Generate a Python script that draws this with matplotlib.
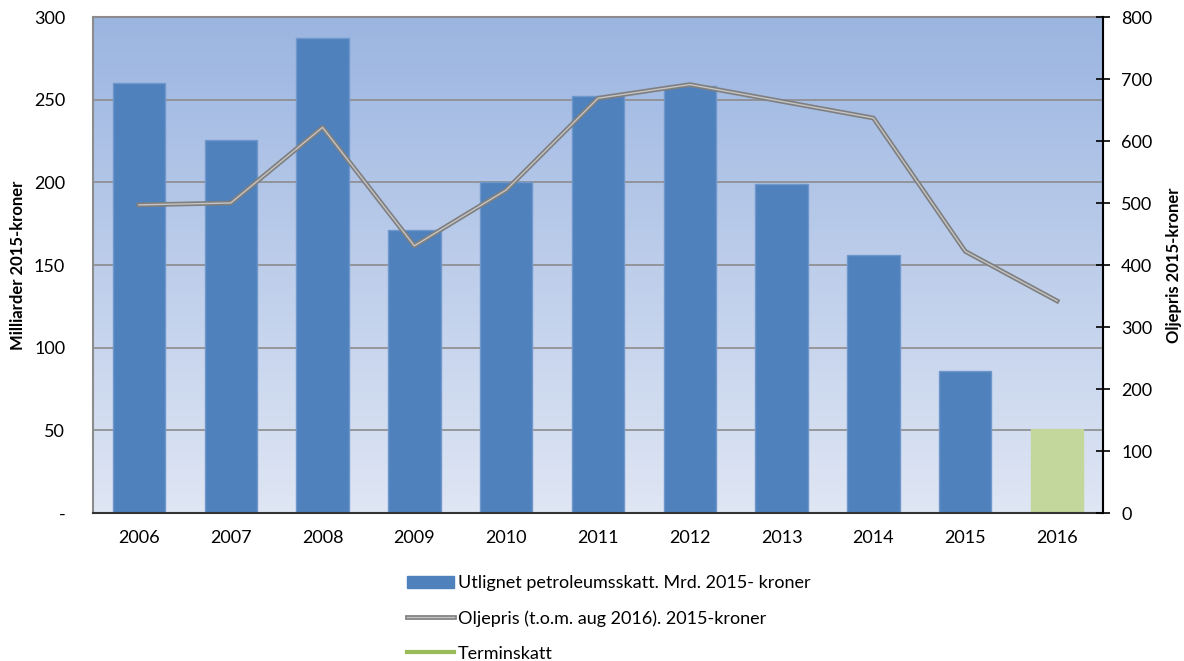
import numpy as np
import matplotlib.pyplot as plt
from matplotlib.lines import Line2D
from matplotlib.patches import Patch
import matplotlib.patheffects as pe

plt.rcParams['font.family'] = ['Lato', 'DejaVu Sans']

years = ['2006', '2007', '2008', '2009', '2010', '2011', '2012', '2013', '2014', '2015', '2016']
skatt = [260, 225.5, 287, 171, 200, 252.5, 258, 199, 156, 86, 0]
terminskatt = [0, 0, 0, 0, 0, 0, 0, 0, 0, 0, 51]
oljepris = [497, 500, 622, 431, 521, 669, 691, 664, 637, 422, 342]
left_ticks = [0, 50, 100, 150, 200, 250, 300]
left_labels = ['-', '50', '100', '150', '200', '250', '300']
right_ticks = [0, 100, 200, 300, 400, 500, 600, 700, 800]

fig = plt.figure(figsize=(11.84, 6.61), dpi=100)
ax = fig.add_axes([93/1184, 1-513/661, (1103-93)/1184, (513-17)/661])

# gradient background
grad = np.linspace(0, 1, 256).reshape(-1, 1)
top = np.array([0x9b, 0xb5, 0xe1]) / 255
bot = np.array([0xdf, 0xe6, 0xf4]) / 255
img = top[None, None, :] * (1 - grad[:, :, None]) + bot[None, None, :] * grad[:, :, None]
ax.imshow(img, extent=[0, 1, 0, 1], transform=ax.transAxes, aspect='auto', zorder=0)

x = np.arange(len(years))
ax.set_xlim(-0.5, len(years) - 0.5)
ax.set_ylim(0, 300)
for t in left_ticks[1:-1]:
    ax.axhline(t, color='#8c8c8c', lw=1.2, zorder=1)
ax.bar(x, skatt, width=0.57, color='#4f81bd', edgecolor='#6f97cc', lw=1, zorder=2)
ax.bar(x, terminskatt, width=0.57, color='#c3d69b', edgecolor='#c3d69b', lw=1, zorder=2)

ax.set_yticks(left_ticks)
ax.set_yticklabels(left_labels, fontsize=13)
ax.tick_params(axis='y', length=0, pad=20)
ax.set_xticks(x)
ax.set_xticklabels(years, fontsize=13)
ax.tick_params(axis='x', length=0, pad=12)
for s in ['left', 'top', 'right']:
    ax.spines[s].set_color('#8c8c8c')
    ax.spines[s].set_linewidth(1.5)
ax.spines['bottom'].set_color('#333333')
ax.spines['bottom'].set_linewidth(1.5)
ax.set_ylabel('Milliarder 2015-kroner', fontsize=12, fontweight='bold', labelpad=6)

ax2 = ax.twinx()
ax2.set_ylim(0, 800)
ax2.set_yticks(right_ticks)
ax2.tick_params(axis='y', direction='inout', length=10, width=1.2, labelsize=13, pad=8, colors='black')
ax2.spines['right'].set_color('black')
ax2.spines['right'].set_linewidth(1.5)
for s in ['left', 'top', 'bottom']:
    ax2.spines[s].set_visible(False)
ax2.plot(x, oljepris, color='#7f7f7f', lw=3.4, zorder=3)
ax2.plot(x, oljepris, color='#c4c4c4', lw=1.0, zorder=4)
ax2.set_ylabel('Oljepris 2015-kroner', fontsize=12, fontweight='bold', labelpad=10)

handles = [
    Patch(facecolor='#4f81bd', edgecolor='#4f81bd'),
    Line2D([0], [0], color='#7f7f7f', lw=3.4),
    Line2D([0], [0], color='#9bbb59', lw=3),
]
labels = ['Utlignet petroleumsskatt. Mrd. 2015- kroner',
          'Oljepris (t.o.m. aug 2016). 2015-kroner',
          'Terminskatt']
leg = fig.legend(handles, labels, loc='upper left', bbox_to_anchor=(400/1184, 1-568/661),
                 frameon=False, fontsize=13, handlelength=2.6, handletextpad=0.2,
                 labelspacing=1.05, borderaxespad=0)
leg.legend_handles[1].set_path_effects([pe.Stroke(linewidth=3.4, foreground='#7f7f7f'),
                                        pe.Stroke(linewidth=1.0, foreground='#c4c4c4')])

fig.savefig('out.png', dpi=100)
